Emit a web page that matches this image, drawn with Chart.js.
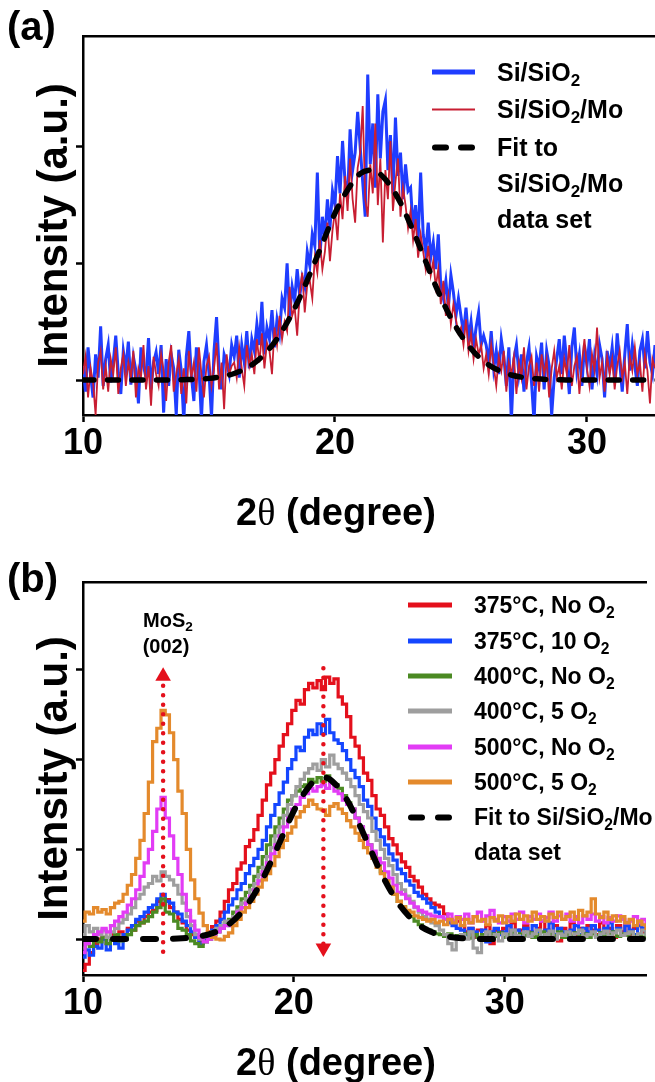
<!DOCTYPE html>
<html>
<head>
<meta charset="utf-8">
<script src="https://cdn.jsdelivr.net/npm/chart.js@4.4.1/dist/chart.umd.min.js"></script>
<style>
    body { margin: 0; background: #fff; font-family: "Liberation Sans", Arial, sans-serif; }
    #page { position: relative; width: 655px; height: 1082px; overflow: hidden; }
    .panel { position: absolute; left: 0; width: 655px; }
    .tag { position: absolute; left: 7px; font-weight: bold; font-size: 40px; line-height: 1; transform: translateY(-50%); }
    .row { position: absolute; display: flex; align-items: center; white-space: nowrap; font-weight: bold; transform: translateY(-50%); }
    .sw { display: inline-block; flex: none; }
    .dash { display: inline-flex; justify-content: space-between; }
    .dash i { display: inline-block; width: 17px; height: 6px; border-radius: 3px; background: #000; }
    sub { font-size: 68%; vertical-align: -0.32em; line-height: 0; }
    .note { position: absolute; font-weight: bold; font-size: 20px; transform: translate(-50%, -50%); text-align: center; white-space: nowrap; }
    .xt { position: absolute; left: 336px; transform: translate(-50%, -50%); font-weight: bold; font-size: 38px; white-space: nowrap; line-height: 1; }
    .xt .th { font-family: "Liberation Serif", serif; font-weight: normal; }
</style>
</head>
<body>
<div id="page">
    <div class="panel" style="top:0;height:540px">
        <canvas id="chartA" width="655" height="540"></canvas>
        <div class="tag" style="top:26px">(a)</div>
        <div class="xt" style="top:512px">2<span class="th">θ</span> (degree)</div>
        <div style="font-size:25px">
            <div class="row" style="left:432px;top:72px"><span class="sw" style="width:43px;height:4.5px;background:#1f3dff;margin-right:22px"></span><span>Si/SiO<sub>2</sub></span></div>
            <div class="row" style="left:432px;top:109px"><span class="sw" style="width:43px;height:2px;background:#c81e32;margin-right:22px"></span><span>Si/SiO<sub>2</sub>/Mo</span></div>
            <div class="row" style="left:432px;top:147px"><span class="sw dash" style="width:43px;margin-right:22px"><i></i><i></i></span><span>Fit to</span></div>
            <div class="row" style="left:497px;top:183px"><span>Si/SiO<sub>2</sub>/Mo</span></div>
            <div class="row" style="left:497px;top:219px"><span>data set</span></div>
        </div>
    </div>
    <div class="panel" style="top:540px;height:542px">
        <canvas id="chartB" width="655" height="542"></canvas>
        <div class="tag" style="top:38px">(b)</div>
        <div class="xt" style="top:522px">2<span class="th">θ</span> (degree)</div>
        <div class="note" style="left:168px;top:80px">MoS<sub>2</sub></div>
        <div class="note" style="left:166px;top:106px">(002)</div>
        <div id="legendB" style="font-size:23px"></div>
    </div>
</div>
<script>
// ---- panel (a): Si/SiO2 vs Si/SiO2/Mo, 2theta scan 10.0 -> 32.7 deg, 0.1 deg step
const scanStartA = 10, scanStepA = 0.1;

const siSiO2 = [
    0.12,-0.10,0.28,0.05,-0.15,0.22,0.02,0.46,-0.05,0.18,
    0.30,-0.02,0.15,0.38,0.06,-0.12,0.25,0.10,0.33,-0.04,
    0.20,0.08,-0.20,0.28,0.12,0.02,0.36,-0.08,0.15,0.24,
    0.05,0.30,-0.28,0.18,-0.05,0.22,0.10,-0.30,0.26,0.08,
    -0.36,0.20,0.42,0.04,-0.18,0.28,0.12,-0.34,0.16,0.30,
    0.06,-0.32,0.25,0.54,0.10,-0.08,0.22,0.15,0.05,0.30,
    0.20,0.38,0.02,0.30,0.15,0.42,0.10,0.35,0.25,0.48,
    0.30,0.67,0.22,0.45,0.35,0.60,0.28,0.52,0.40,0.70,
    0.62,1.00,0.55,0.80,0.68,0.95,0.72,0.88,0.80,1.10,
    0.98,1.25,1.15,1.78,1.05,1.40,1.22,1.55,1.30,1.62,
    1.50,1.92,1.60,2.05,1.70,1.55,2.15,1.80,1.95,2.30,
    2.00,1.70,1.40,2.62,1.85,2.20,1.65,2.45,1.90,2.30,
    2.40,1.80,2.10,1.60,2.25,1.75,1.95,1.55,1.85,1.62,
    1.65,1.30,1.50,1.20,1.78,1.25,1.10,1.35,1.05,1.18,
    0.95,1.25,0.80,0.70,0.85,0.62,0.90,0.75,0.55,0.70,
    0.55,0.40,0.62,0.35,0.50,0.28,0.45,0.58,0.30,0.38,
    0.30,0.15,0.42,0.10,0.25,0.05,0.35,0.20,-0.05,0.28,
    -0.35,0.18,0.30,0.05,0.22,-0.10,0.15,0.28,-0.02,-0.36,
    0.20,0.10,0.32,-0.08,0.25,0.12,-0.30,0.02,0.18,0.35,
    0.05,0.38,0.15,-0.12,0.28,0.45,0.08,0.22,-0.05,0.30,
    0.12,0.35,-0.08,0.20,0.05,0.30,0.18,-0.15,0.25,0.10,
    0.28,0.02,0.40,0.15,-0.10,0.22,0.48,0.08,0.30,0.12,
    -0.05,0.25,0.35,0.10,0.42,0.15,0.05,0.30
];

const siSiO2Mo = [
    0.05,0.20,-0.15,0.10,-0.02,-0.30,0.15,0.25,-0.08,0.12,
    -0.10,0.18,0.05,0.28,-0.12,0.10,0.22,-0.05,0.15,0.02,
    0.25,-0.15,0.10,0.02,0.30,-0.08,0.12,-0.22,0.20,0.05,
    -0.05,0.22,0.08,-0.18,0.15,0.30,-0.10,0.05,0.18,-0.12,
    0.10,-0.20,0.25,0.02,0.15,-0.10,0.28,0.05,-0.15,0.12,
    0.20,-0.05,0.10,0.32,-0.08,0.15,-0.25,0.22,0.05,0.12,
    0.15,0.02,0.28,0.10,-0.05,0.30,0.12,0.22,0.05,0.35,
    0.15,0.40,0.10,0.32,0.25,0.05,0.45,0.30,0.55,0.35,
    0.50,0.42,0.80,0.55,0.62,0.38,0.75,0.92,0.58,0.82,
    0.85,0.70,1.05,0.92,1.20,0.95,1.10,1.35,1.02,1.28,
    1.45,1.20,1.60,1.38,1.75,1.45,1.90,1.55,1.35,1.82,
    1.95,2.35,1.55,1.40,1.85,1.60,2.20,1.50,1.90,1.18,
    1.80,1.55,2.05,1.45,1.70,1.90,1.40,1.65,1.50,1.30,
    1.45,1.20,1.38,1.05,1.25,1.10,0.95,1.15,0.90,1.02,
    0.80,0.95,0.65,0.85,0.55,0.72,0.48,0.65,0.52,0.40,
    0.45,0.30,0.52,0.25,0.40,0.18,0.35,0.22,0.30,0.10,
    0.22,0.05,0.30,0.12,-0.05,0.20,0.08,0.25,-0.10,0.15,
    0.05,0.20,-0.12,0.15,0.02,0.28,-0.08,0.12,0.20,-0.05,
    0.15,-0.10,0.22,0.05,0.18,-0.15,0.10,0.25,0.02,0.12,
    -0.08,0.18,0.05,0.30,-0.05,0.12,0.20,-0.12,0.15,0.35,
    0.10,-0.05,0.22,0.08,0.45,0.02,0.15,-0.10,0.20,0.05,
    0.18,-0.08,0.12,0.25,0.02,0.15,-0.12,0.20,0.08,0.28,
    0.05,0.15,-0.10,0.22,0.08,-0.20,0.18,0.10
];

// fit to the Si/SiO2/Mo amorphous hump (shared by both panels)
const fitX = [
    10,10.5,11,11.5,12,12.5,13,13.5,14,14.5,15,15.5,16,16.5,17,17.5,18,18.5,19,19.5,
    20,20.5,21,21.5,22,22.5,23,23.5,24,24.5,25,25.5,26,26.5,27,27.5,28,28.5,29,29.5,
    30,30.5,31,31.5,32,32.5,33,33.5,34,34.5,35,35.5,36,36.5,37
];
const fitY = [
    0,0,0,0,0,0,0.001,0.001,0.003,0.006,0.014,0.029,0.056,0.103,0.18,0.295,0.455,0.66,0.907,1.17,
    1.43,1.63,1.77,1.80,1.72,1.56,1.33,1.07,0.805,0.574,0.385,0.244,0.145,0.082,0.043,0.021,0.010,0.004,0.002,0,
    0,0,0,0,0,0,0,0,0,0,0,0,0,0,0
];

// ---- panel (b): annealed films, 2theta scan 10.0 -> 36.8 deg, 0.2 deg step
const scanStartB = 10, scanStepB = 0.2;

const c375NoO2 = [
    -0.35,-0.28,-0.15,-0.05,0.00, 0.02,-0.05,0.05,0.00,0.08, 0.05,0.12,0.10,0.20,0.18,
    0.25,0.30,0.32,0.42,0.38, 0.44,0.35,0.30,0.22,0.18, 0.10,0.05,0.02,-0.02,0.03,
    0.08,0.14,0.20,0.30,0.42, 0.55,0.62,0.78,0.85,1.03, 1.10,1.22,1.38,1.55,1.72,
    1.85,2.00,2.15,2.28,2.40, 2.55,2.66,2.62,2.78,2.85, 2.80,2.88,2.78,2.92,2.85,
    2.90,2.70,2.62,2.48,2.25, 2.15,2.02,1.85,1.77,1.60, 1.45,1.38,1.25,1.12,1.05,
    0.95,0.86,0.80,0.70,0.65, 0.58,0.50,0.45,0.40,0.38, 0.36,0.28,0.22,0.18,0.20,
    0.15,0.08,0.12,0.02,0.10, 0.05,0.15,-0.05,0.10,0.08, 0.12,0.05,0.18,0.02,0.10,
    0.15,0.08,0.02,0.12,0.20, 0.10,0.05,0.15,-0.02,0.12, 0.08,0.18,0.05,0.12,0.02,
    0.15,0.10,0.05,0.18,0.08, 0.12,0.02,0.15,0.08,0.18, 0.05,0.12,0.20,0.08,0.15
];
const c375O2 = [
    -0.20,-0.12,-0.18,-0.08,-0.10, 0.00,-0.12,0.02,-0.05,-0.10, 0.05,0.10,0.15,0.22,0.25,
    0.30,0.35,0.38,0.45,0.50, 0.42,0.40,0.30,0.28,0.20, 0.15,0.08,0.02,-0.05,0.00,
    0.05,0.10,0.15,0.22,0.30, 0.38,0.45,0.55,0.62,0.73, 0.82,0.90,1.00,1.10,1.25,
    1.38,1.50,1.63,1.75,1.90, 2.00,2.14,2.10,2.25,2.33, 2.28,2.40,2.29,2.45,2.30,
    2.22,2.18,2.10,2.00,1.88, 1.80,1.70,1.55,1.48,1.35, 1.22,1.14,1.05,0.95,0.88,
    0.78,0.73,0.65,0.60,0.52, 0.48,0.45,0.40,0.35,0.30, 0.25,0.22,0.18,0.15,0.12,
    0.10,0.05,0.12,0.08,0.02, 0.10,-0.03,0.08,0.12,0.05, 0.08,0.15,0.02,0.10,0.05,
    0.12,0.05,0.15,0.08,0.02, 0.10,0.18,0.05,0.12,0.08, 0.02,0.10,0.15,0.05,0.12,
    0.08,0.15,0.10,0.02,0.12, 0.18,0.08,0.12,0.05,0.15, 0.10,0.05,0.15,0.12,0.08
];
const c400NoO2 = [
    -0.10,-0.05,-0.08,0.00,-0.03, 0.02,-0.05,0.00,0.05,-0.02, 0.00,0.05,0.10,0.15,0.18,
    0.20,0.25,0.30,0.35,0.45, 0.30,0.28,0.20,0.12,0.10, 0.05,-0.02,-0.05,-0.08,-0.03,
    0.00,0.05,0.08,0.12,0.18, 0.22,0.30,0.36,0.45,0.52, 0.60,0.70,0.80,0.92,1.05,
    1.15,1.25,1.35,1.45,1.55, 1.60,1.65,1.70,1.72,1.78, 1.75,1.80,1.76,1.82,1.74,
    1.72,1.68,1.60,1.52,1.45, 1.35,1.25,1.15,1.05,0.95, 0.85,0.75,0.65,0.58,0.50,
    0.42,0.36,0.30,0.25,0.20, 0.16,0.12,0.10,0.08,0.06, 0.05,0.03,0.06,0.02,0.04,
    0.03,0.06,0.01,0.05,0.02, 0.05,0.02,0.06,0.03,0.07, 0.02,0.05,0.08,0.03,0.06,
    0.04,0.07,0.02,0.05,0.08, 0.03,0.06,0.04,0.08,0.02, 0.05,0.03,0.07,0.04,0.06,
    0.02,0.06,0.04,0.07,0.03, 0.05,0.08,0.03,0.06,0.04, 0.07,0.03,0.05,0.02,0.06
];
const c400O2 = [
    0.05,0.15,0.08,0.12,0.05, 0.10,0.02,0.08,0.12,0.18, 0.22,0.28,0.35,0.45,0.50,
    0.58,0.62,0.70,0.65,0.75, 0.70,0.66,0.60,0.50,0.40, 0.25,0.15,0.05,0.00,0.02,
    0.05,0.08,0.12,0.15,0.20, 0.15,0.25,0.32,0.40,0.45, 0.55,0.62,0.72,0.80,0.92,
    1.02,1.15,1.25,1.38,1.50, 1.60,1.70,1.78,1.85,1.90, 1.95,1.88,2.00,1.92,2.05,
    1.95,1.90,1.85,1.78,1.70, 1.60,1.50,1.42,1.35,1.20, 1.10,1.00,0.90,0.82,0.72,
    0.62,0.55,0.48,0.42,0.35, 0.30,0.25,0.22,0.18,0.15, 0.10,0.05,-0.05,-0.12,0.02,
    0.05,0.00,0.08,-0.10,-0.15, 0.02,0.08,0.00,0.05,-0.02, 0.06,0.02,0.10,0.04,0.00,
    0.08,0.03,0.06,0.10,0.02, 0.05,0.09,0.00,0.06,0.04, 0.08,0.02,0.06,0.10,0.03,
    0.05,0.08,0.02,0.06,0.09, 0.03,0.07,0.10,0.04,0.06, 0.08,0.02,0.06,0.10,0.05
];
const c500NoO2 = [
    -0.15,-0.05,0.00,0.05,0.08, 0.12,0.08,0.15,0.20,0.25, 0.30,0.38,0.45,0.55,0.70,
    0.85,1.00,1.20,1.45,1.58, 1.35,1.15,0.90,0.72,0.50, 0.32,0.20,0.10,0.02,-0.03,
    0.00,0.05,0.08,0.12,0.15, 0.15,0.22,0.30,0.35,0.40, 0.48,0.55,0.65,0.75,0.85,
    0.95,1.05,1.15,1.25,1.35, 1.45,1.50,1.58,1.62,1.68, 1.65,1.70,1.72,1.68,1.74,
    1.65,1.62,1.55,1.50,1.45, 1.35,1.25,1.15,1.05,0.98, 0.90,0.85,0.75,0.68,0.60,
    0.52,0.50,0.45,0.40,0.36, 0.32,0.30,0.28,0.26,0.25, 0.25,0.22,0.28,0.20,0.25,
    0.22,0.28,0.18,0.25,0.30, 0.20,0.26,0.32,0.22,0.18, 0.25,0.20,0.28,0.22,0.30,
    0.18,0.25,0.22,0.28,0.20, 0.24,0.30,0.20,0.26,0.22, 0.28,0.20,0.25,0.18,0.26,
    0.22,0.28,0.20,0.25,0.18, 0.24,0.20,0.26,0.22,0.18, 0.20,0.25,0.18,0.22,0.16
];
const c500O2 = [
    0.20,0.30,0.28,0.35,0.30, 0.33,0.28,0.35,0.40,0.42, 0.50,0.60,0.72,0.90,1.10,
    1.40,1.75,2.20,2.35,2.55, 2.50,2.30,2.00,1.65,1.40, 1.00,0.66,0.45,0.29,0.15,
    0.07,0.02,0.00,-0.01,0.03, 0.07,0.15,0.22,0.30,0.35, 0.42,0.50,0.58,0.66,0.73,
    0.82,0.92,1.02,1.10,1.18, 1.25,1.36,1.42,1.48,1.55, 1.50,1.45,1.44,1.38,1.48,
    1.51,1.45,1.40,1.32,1.25, 1.18,1.10,1.02,0.96,0.90, 0.80,0.73,0.65,0.58,0.50,
    0.42,0.36,0.32,0.30,0.26, 0.24,0.22,0.20,0.22,0.18, 0.20,0.16,0.22,0.18,0.24,
    0.15,0.22,0.18,0.25,0.20, 0.22,0.16,0.24,0.20,0.26, 0.18,0.25,0.20,0.28,0.22,
    0.26,0.20,0.30,0.22,0.25, 0.20,0.28,0.24,0.30,0.22, 0.25,0.30,0.22,0.32,0.26,
    0.30,0.45,0.28,0.24,0.30, 0.22,0.26,0.20,0.25,0.18, 0.22,0.15,0.20,0.16,0.12
];

// peak markers: MoS2 (002) and the SiO2 hump centre
const mosPeak = 13.8;
const humpPeak = 21.4;

const seriesB = [
    { label: '375°C, No O<sub>2</sub>', data: c375NoO2, color: '#e4101c' },
    { label: '375°C, 10 O<sub>2</sub>', data: c375O2, color: '#1446ff' },
    { label: '400°C, No O<sub>2</sub>', data: c400NoO2, color: '#4b8a23' },
    { label: '400°C, 5 O<sub>2</sub>', data: c400O2, color: '#9e9e9e' },
    { label: '500°C, No O<sub>2</sub>', data: c500NoO2, color: '#e23cf5' },
    { label: '500°C, 5 O<sub>2</sub>', data: c500O2, color: '#e48a2c' }
];

function scan(start, step, ys) {
    return ys.map((y, i) => ({ x: +(start + i * step).toFixed(2), y: y }));
}
function pairs(xs, ys) {
    return xs.map((x, i) => ({ x: x, y: ys[i] }));
}

const FONT = '"Liberation Sans", Arial, sans-serif';

function axes(xMax, yMin, yMax, xHeight) {
    return {
        x: {
            type: 'linear', min: 10, max: xMax,
            afterFit: s => { s.height = xHeight; },
            ticks: { stepSize: 10, includeBounds: false, color: '#000', padding: 0, font: { family: FONT, size: 36, weight: 'bold' } },
            grid: { drawOnChartArea: false, drawTicks: true, tickLength: 7, tickWidth: 2.5, color: '#000' },
            border: { display: true, color: '#000', width: 2.5 }
        },
        xTop: {
            type: 'linear', position: 'top', min: 10, max: xMax,
            afterFit: s => { s.height = 0; },
            ticks: { display: false },
            grid: { display: false },
            border: { display: true, color: '#000', width: 2.5 }
        },
        y: {
            min: yMin, max: yMax,
            afterFit: s => { s.width = 83; },
            ticks: { display: false, stepSize: 1, includeBounds: false },
            grid: { drawOnChartArea: false, drawTicks: true, tickLength: 7, tickWidth: 2.5, color: '#000' },
            border: { display: true, color: '#000', width: 2.5 },
            title: { display: true, text: 'Intensity (a.u.)', color: '#000', padding: { top: 30, bottom: 0 }, font: { family: FONT, size: 42, weight: 'bold' } }
        }
    };
}

function lineSet(data, color, width, extra) {
    return Object.assign({
        data: data,
        borderColor: color,
        borderWidth: width,
        pointRadius: 0,
        tension: 0,
        fill: false
    }, extra || {});
}

const baseOptions = {
    responsive: false,
    animation: false,
    events: [],
    plugins: { legend: { display: false }, tooltip: { enabled: false } }
};

// panel (a)
new Chart(document.getElementById('chartA'), {
    type: 'line',
    data: {
        datasets: [
            lineSet(pairs(fitX, fitY), '#000', 5.5, { borderDash: [11, 13.5], borderCapStyle: 'round', cubicInterpolationMode: 'monotone' }),
            lineSet(scan(scanStartA, scanStepA, siSiO2Mo), '#c81e32', 1.8),
            lineSet(scan(scanStartA, scanStepA, siSiO2), '#1f3dff', 3)
        ]
    },
    options: Object.assign({}, baseOptions, {
        layout: { padding: { top: 36, right: 0, bottom: 0, left: 0 } },
        scales: axes(32.7, -0.30, 2.95, 125)
    })
});

// panel (b)
const dotted = { borderDash: [0, 9.5], borderCapStyle: 'round', pointStyle: 'triangle', pointBorderWidth: 0, backgroundColor: '#e4101c' };
const dsB = [
    lineSet([{ x: mosPeak, y: 2.93 }, { x: mosPeak, y: -0.22 }], '#e4101c', 4.5,
        Object.assign({}, dotted, { pointRadius: [9, 0], pointRotation: 0 })),
    lineSet([{ x: humpPeak, y: 3.02 }, { x: humpPeak, y: -0.10 }], '#e4101c', 4.5,
        Object.assign({}, dotted, { pointRadius: [0, 9], pointRotation: 180 })),
    lineSet(pairs(fitX, fitY), '#000', 6, { borderDash: [13, 17], borderCapStyle: 'round', cubicInterpolationMode: 'monotone' })
];
// raw scans look stair-stepped at this resolution
seriesB.slice().reverse().forEach(s => {
    dsB.push(lineSet(scan(scanStartB, scanStepB, s.data), s.color, 3.2, { stepped: 'middle' }));
});

new Chart(document.getElementById('chartB'), {
    type: 'line',
    data: { datasets: dsB },
    options: Object.assign({}, baseOptions, {
        layout: { padding: { top: 42, right: 0, bottom: 0, left: 0 } },
        scales: axes(36.7, -0.40, 3.98, 107)
    })
});

// legend for panel (b)
const legendB = document.getElementById('legendB');
const rowTops = [65, 101, 136, 171, 207, 242];
function addRow(left, top, html) {
    const row = document.createElement('div');
    row.className = 'row';
    row.style.left = left + 'px';
    row.style.top = top + 'px';
    row.innerHTML = html;
    legendB.appendChild(row);
}
seriesB.forEach((s, i) => {
    addRow(408, rowTops[i], `<span class="sw" style="width:44px;height:4.5px;background:${s.color};margin-right:22px"></span><span>${s.label}</span>`);
});
addRow(408, 277, '<span class="sw dash" style="width:44px;margin-right:22px"><i></i><i></i></span><span>Fit to Si/SiO<sub>2</sub>/Mo</span>');
addRow(474, 312, '<span>data set</span>');
</script>
</body>
</html>
